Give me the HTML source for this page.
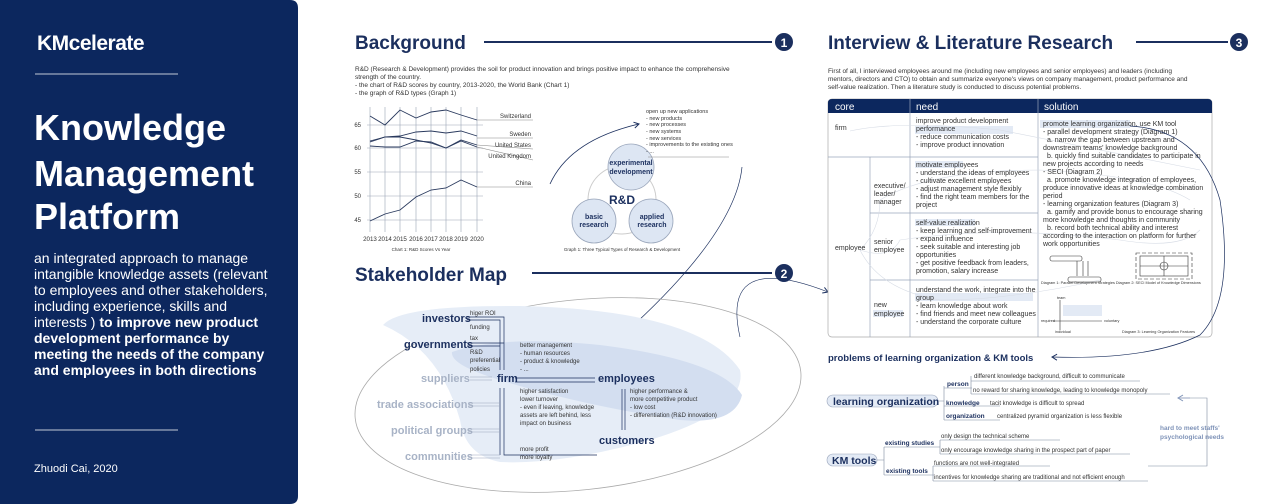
<!DOCTYPE html>
<html><head><meta charset="utf-8"><style>
html,body{margin:0;padding:0;background:#fff;width:1280px;height:504px;overflow:hidden}
svg{display:block;font-family:"Liberation Sans",sans-serif}
</style></head><body>
<svg width="1280" height="504" viewBox="0 0 1280 504" xmlns="http://www.w3.org/2000/svg">
<defs>
<marker id="ah" markerWidth="8" markerHeight="8" refX="6" refY="4" orient="auto" markerUnits="userSpaceOnUse"><path d="M1,1 L6,4 L1,7" fill="none" stroke="#1b2f5e" stroke-width="1"/></marker>
<marker id="ahg" markerWidth="8" markerHeight="8" refX="6" refY="4" orient="auto" markerUnits="userSpaceOnUse"><path d="M1,1 L6,4 L1,7" fill="none" stroke="#7f93b8" stroke-width="1"/></marker>
</defs>
<path d="M0,0 H290 Q298,0 298,8 V496 Q298,504 290,504 H0 Z" fill="#0c275e"/>
<text x="37" y="50" fill="#fff" font-size="21" font-weight="bold" letter-spacing="-0.5">KMcelerate</text>
<line x1="35" y1="74" x2="178" y2="74" stroke="#fff" stroke-width="0.8"/>
<g fill="#fff" font-weight="bold" font-size="36">
<text x="34" y="140">Knowledge</text>
<text x="34" y="186">Management</text>
<text x="34" y="229">Platform</text>
</g>
<g fill="#fff" font-size="14">
<text x="34" y="263">an integrated approach to manage</text>
<text x="34" y="279">intangible knowledge assets (relevant</text>
<text x="34" y="295">to employees and other stakeholders,</text>
<text x="34" y="311">including experience, skills and</text>
<text x="34" y="327">interests ) <tspan font-weight="bold">to improve new product</tspan></text>
<text x="34" y="343" font-weight="bold">development performance by</text>
<text x="34" y="359" font-weight="bold">meeting the needs of the company</text>
<text x="34" y="375" font-weight="bold">and employees in both directions</text>
<text x="34" y="472" font-size="11">Zhuodi Cai, 2020</text>
</g>
<line x1="35" y1="430" x2="178" y2="430" stroke="#fff" stroke-width="0.8"/>

<text x="355" y="49" fill="#1b2f5e" font-size="19" font-weight="bold">Background</text>
<line x1="484" y1="42" x2="772" y2="42" stroke="#1b2f5e" stroke-width="2"/>
<circle cx="784" cy="42" r="9" fill="#1b2f5e"/>
<text x="784" y="47" fill="#fff" font-size="12" font-weight="bold" text-anchor="middle">1</text>
<g fill="#333" font-size="6.5">
<text x="355" y="71">R&amp;D (Research &amp; Development) provides the soil for product innovation and brings positive impact to enhance the comprehensive</text>
<text x="355" y="79">strength of the country.</text>
<text x="355" y="87">- the chart of R&amp;D scores by country, 2013-2020, the World Bank (Chart 1)</text>
<text x="355" y="95">- the graph of R&amp;D types (Graph 1)</text>
</g>
<g stroke="#9aa3b5" stroke-width="0.6">
<line x1="367" y1="125" x2="483" y2="125"/><line x1="367" y1="148" x2="483" y2="148"/><line x1="367" y1="172" x2="483" y2="172"/><line x1="367" y1="196" x2="483" y2="196"/><line x1="367" y1="220" x2="483" y2="220"/>
<line x1="370" y1="107" x2="370" y2="232"/><line x1="385" y1="107" x2="385" y2="232"/><line x1="400" y1="107" x2="400" y2="232"/><line x1="416" y1="107" x2="416" y2="232"/><line x1="431" y1="107" x2="431" y2="232"/><line x1="446" y1="107" x2="446" y2="232"/><line x1="461" y1="107" x2="461" y2="232"/><line x1="477" y1="107" x2="477" y2="232"/>
</g>
<g fill="none" stroke="#2a3a5e" stroke-width="0.9">
<polyline points="370,116 385,125 400,110 416,118 431,112 446,110 461,115 477,120"/>
<polyline points="370,141 385,137 400,136 416,132 431,131 446,133 461,131 477,136"/>
<polyline points="370,142 385,137 400,137 416,140 431,143 446,148 461,140 477,145"/>
<polyline points="370,146 385,147 400,147 416,141 431,142 446,148 461,141 477,147"/>
<polyline points="370,221 385,214 400,210 416,197 431,190 446,188 461,180 477,187"/>
</g>
<g stroke="#888" stroke-width="0.6">
<line x1="477" y1="120" x2="533" y2="120"/><line x1="477" y1="138" x2="533" y2="138"/><line x1="477" y1="145" x2="533" y2="149"/><line x1="477" y1="147" x2="533" y2="160"/><line x1="477" y1="187" x2="533" y2="187"/>
</g>
<g fill="#333" font-size="6" text-anchor="end">
<text x="531" y="118">Switzerland</text><text x="531" y="136">Sweden</text><text x="531" y="147">United States</text><text x="531" y="158">United Kingdom</text><text x="531" y="185">China</text>
<text x="361" y="127">65</text><text x="361" y="150">60</text><text x="361" y="174">55</text><text x="361" y="198">50</text><text x="361" y="222">45</text>
</g>
<g fill="#333" font-size="6.2" text-anchor="middle">
<text x="370" y="241">2013</text><text x="385" y="241">2014</text><text x="400" y="241">2015</text><text x="416" y="241">2016</text><text x="431" y="241">2017</text><text x="446" y="241">2018</text><text x="461" y="241">2019</text><text x="477" y="241">2020</text>
<text x="421" y="251" font-size="4.5">Chart 1: R&amp;D Scores Vs Year</text>
<text x="622" y="251" font-size="4.5">Graph 1: Three Typical Types of Research &amp; Development</text>
</g>
<circle cx="622" cy="200" r="34" fill="none" stroke="#ccc" stroke-width="1"/>
<g fill="#dde6f3" stroke="#9aa6bb" stroke-width="0.8">
<circle cx="631" cy="167" r="23"/><circle cx="594" cy="221" r="22"/><circle cx="651" cy="221" r="22"/>
</g>
<g fill="#1b2f5e" font-size="7" font-weight="bold" text-anchor="middle">
<text x="631" y="165">experimental</text><text x="631" y="174">development</text>
<text x="594" y="219">basic</text><text x="594" y="227">research</text>
<text x="652" y="219">applied</text><text x="652" y="227">research</text>
<text x="622" y="204" font-size="12">R&amp;D</text>
</g>
<g fill="#333" font-size="5.5">
<text x="646" y="113">open up new applications</text><text x="646" y="120">- new products</text><text x="646" y="126">- new processes</text><text x="646" y="133">- new systems</text><text x="646" y="140">- new services</text><text x="646" y="146">- improvements to the existing ones</text><text x="646" y="153">- ...</text>
</g>
<line x1="648" y1="157" x2="729" y2="157" stroke="#888" stroke-width="0.5"/>
<path d="M550,184 Q570,140 639,124" fill="none" stroke="#1b2f5e" stroke-width="0.8" marker-end="url(#ah)"/>
<path d="M742,167 Q735,240 600,355" fill="none" stroke="#1b2f5e" stroke-width="0.7" marker-end="url(#ah)"/>

<text x="355" y="281" fill="#1b2f5e" font-size="19" font-weight="bold">Stakeholder Map</text>
<line x1="532" y1="273" x2="772" y2="273" stroke="#1b2f5e" stroke-width="2"/>
<circle cx="784" cy="273" r="9" fill="#1b2f5e"/>
<text x="784" y="278" fill="#fff" font-size="12" font-weight="bold" text-anchor="middle">2</text>
<ellipse cx="578" cy="395" rx="224" ry="95" transform="rotate(-6 578 395)" fill="none" stroke="#aaa" stroke-width="0.8"/>
<path d="M383,325 Q400,305 520,306 Q700,310 740,370 Q748,410 650,440 Q560,465 500,462 Q465,455 460,420 Q440,350 383,325Z" fill="#e6edf7"/>
<path d="M452,352 Q500,335 600,345 Q720,360 742,395 Q735,425 680,420 Q580,405 500,380 Q450,365 452,352Z" fill="#d3def0"/>
<path d="M740,337 Q720,250 828,292" fill="none" stroke="#1b2f5e" stroke-width="0.6" marker-end="url(#ah)"/>
<g fill="#1b2f5e" font-weight="bold" font-size="11">
<text x="422" y="322">investors</text><text x="404" y="348">governments</text>
<text x="497" y="382">firm</text><text x="598" y="382">employees</text><text x="599" y="444">customers</text>
</g>
<g fill="#a8b3c6" font-weight="bold" font-size="11">
<text x="421" y="382">suppliers</text><text x="377" y="408">trade associations</text><text x="391" y="434">political groups</text><text x="405" y="460">communities</text>
</g>
<g stroke="#1b2f5e" stroke-width="0.7" fill="none">
<path d="M467,317 H504 V370"/><path d="M467,320 H500 V370"/><path d="M467,343 H504"/><path d="M467,346 H500"/>
<path d="M515,378 H595"/><path d="M515,382 H595"/><path d="M504,388 V455 H597"/><path d="M500,388 V455"/>
<path d="M622,389 V430"/><path d="M625,389 V430"/>
</g>
<g stroke="#9aa6bb" stroke-width="0.6" fill="none">
<path d="M470,377 H492"/><path d="M470,380 H492"/><path d="M468,403 H500"/><path d="M468,406 H500"/><path d="M468,429 H500"/><path d="M468,432 H500"/><path d="M468,455 H500"/><path d="M468,458 H500"/>
</g>
<g fill="#333" font-size="6">
<text x="470" y="315">higer ROI</text><text x="470" y="329">funding</text><text x="470" y="340">tax</text><text x="470" y="354">R&amp;D</text><text x="470" y="362">preferential</text><text x="470" y="371">policies</text>
<text x="520" y="347">better management</text><text x="520" y="355">- human resources</text><text x="520" y="363">- product &amp; knowledge</text><text x="520" y="371">- ...</text>
<text x="520" y="393">higher satisfaction</text><text x="520" y="401">lower turnover</text><text x="520" y="409">- even if leaving, knowledge</text><text x="520" y="417">assets are left behind, less</text><text x="520" y="425">impact on business</text>
<text x="630" y="393">higher performance &amp;</text><text x="630" y="401">more competitive product</text><text x="630" y="409">- low cost</text><text x="630" y="417">- differentiation (R&amp;D innovation)</text>
<text x="520" y="451">more profit</text><text x="520" y="459">more loyalty</text>
</g>

<text x="828" y="49" fill="#1b2f5e" font-size="19" font-weight="bold">Interview &amp; Literature Research</text>
<line x1="1136" y1="42" x2="1228" y2="42" stroke="#1b2f5e" stroke-width="2"/>
<circle cx="1239" cy="42" r="9" fill="#1b2f5e"/>
<text x="1239" y="47" fill="#fff" font-size="12" font-weight="bold" text-anchor="middle">3</text>
<g fill="#333" font-size="6.5">
<text x="828" y="73">First of all, I interviewed employees around me (including new employees and senior employees) and leaders (including</text>
<text x="828" y="81">mentors, directors and CTO) to obtain and summarize everyone's views on company management, product performance and</text>
<text x="828" y="89">self-value realization. Then a literature study is conducted to discuss potential problems.</text>
</g>
<rect x="828" y="99" width="384" height="238" rx="4" fill="#fff" stroke="#aaa" stroke-width="0.7"/>
<path d="M828,113 V103 Q828,99 832,99 H1208 Q1212,99 1212,103 V113 Z" fill="#0c275e"/>
<g fill="#fff" font-size="10"><text x="835" y="110">core</text><text x="916" y="110">need</text><text x="1044" y="110">solution</text></g>
<g fill="#e3eaf5">
<rect x="915" y="126" width="98" height="8"/><rect x="1040" y="120" width="90" height="8"/><rect x="915" y="161" width="48" height="7"/><rect x="915" y="219" width="60" height="7"/><rect x="915" y="293" width="118" height="8"/><rect x="873" y="310" width="30" height="7"/>
</g>
<g stroke="#9aa6bb" stroke-width="0.7">
<line x1="910" y1="99" x2="910" y2="337"/><line x1="1038" y1="99" x2="1038" y2="337"/><line x1="870" y1="157" x2="870" y2="337"/>
<line x1="828" y1="157" x2="1038" y2="157"/><line x1="870" y1="213" x2="1038" y2="213"/><line x1="870" y1="280" x2="1038" y2="280"/>
</g>
<g fill="none" stroke="#d8dde6" stroke-width="0.6">
<path d="M850,131 Q900,120 1000,130 Q1100,150 1200,170"/>
<path d="M860,250 Q880,230 880,200 Q930,170 1040,170 Q1150,175 1190,200"/>
<path d="M860,250 Q890,260 900,240 Q1000,225 1120,240 Q1180,250 1200,230"/>
<path d="M860,250 Q880,290 940,300 Q1010,300 1100,280"/>
</g>
<g fill="#333" font-size="7">
<text x="835" y="130">firm</text><text x="835" y="250">employee</text>
<text x="874" y="188">executive/</text><text x="874" y="196">leader/</text><text x="874" y="204">manager</text>
<text x="874" y="244">senior</text><text x="874" y="252">employee</text>
<text x="874" y="307">new</text><text x="874" y="316">employee</text>
<text x="916" y="123">improve product development</text><text x="916" y="131">performance</text><text x="916" y="139">- reduce communication costs</text><text x="916" y="147">- improve product innovation</text>
<text x="916" y="167">motivate employees</text><text x="916" y="175">- understand the ideas of employees</text><text x="916" y="183">- cultivate excellent employees</text><text x="916" y="191">- adjust management style flexibly</text><text x="916" y="199">- find the right team members for the</text><text x="916" y="207">project</text>
<text x="916" y="225">self-value realization</text><text x="916" y="233">- keep learning and self-improvement</text><text x="916" y="241">- expand influence</text><text x="916" y="249">- seek suitable and interesting job</text><text x="916" y="257">opportunities</text><text x="916" y="265">- get positive feedback from leaders,</text><text x="916" y="273">promotion, salary increase</text>
<text x="916" y="292">understand the work, integrate into the</text><text x="916" y="300">group</text><text x="916" y="308">- learn knowledge about work</text><text x="916" y="316">- find friends and meet new colleagues</text><text x="916" y="324">- understand the corporate culture</text>
<text x="1043" y="126">promote learning organization, use KM tool</text>
<text x="1043" y="134">- parallel development strategy (Diagram 1)</text>
<text x="1047" y="142">a. narrow the gap between upstream and</text>
<text x="1043" y="150">downstream teams' knowledge background</text>
<text x="1047" y="158">b. quickly find suitable candidates to participate in</text>
<text x="1043" y="166">new projects according to needs</text>
<text x="1043" y="174">- SECI (Diagram 2)</text>
<text x="1047" y="182">a. promote knowledge integration of employees,</text>
<text x="1043" y="190">produce innovative ideas at knowledge combination</text>
<text x="1043" y="198">period</text>
<text x="1043" y="206">- learning organization features (Diagram 3)</text>
<text x="1047" y="214">a. gamify and provide bonus to encourage sharing</text>
<text x="1043" y="222">more knowledge and thoughts in community</text>
<text x="1047" y="230">b. record both technical ability and interest</text>
<text x="1043" y="238">according to the interaction on platform for further</text>
<text x="1043" y="246">work opportunities</text>
</g>
<g fill="none" stroke="#333" stroke-width="0.6">
<rect x="1050" y="256" width="32" height="5" rx="2"/><rect x="1068" y="277" width="33" height="5" rx="2"/>
<path d="M1077,261 V276 M1083,261 V276 M1088,261 V276"/>
<rect x="1140" y="256" width="48" height="20"/><line x1="1164" y1="256" x2="1164" y2="276"/><line x1="1140" y1="266" x2="1188" y2="266"/><circle cx="1164" cy="266" r="4"/>
<path d="M1136,253 H1192 V279 H1136 Z" stroke-dasharray="4 2"/>
<path d="M1060,300 V330 M1053,321 H1102"/>
</g>
<rect x="1063" y="305" width="39" height="11" fill="#e3eaf5"/>
<g fill="#333" font-size="3.8">
<text x="1041" y="284">Diagram 1: Parallel Development Strategies  Diagram 2: SECI Model of Knowledge Dimensions</text>
<text x="1122" y="333">Diagram 3: Learning Organization Features</text>
<text x="1057" y="299">team</text><text x="1041" y="322">required</text><text x="1104" y="322">voluntary</text><text x="1055" y="333">individual</text>
</g>
<path d="M1130,126 Q1200,130 1220,200 Q1235,300 1200,335 Q1150,360 1052,357" fill="none" stroke="#1b2f5e" stroke-width="0.7" marker-end="url(#ah)"/>

<text x="828" y="361" fill="#1b2f5e" font-size="9.5" font-weight="bold">problems of learning organization &amp; KM tools</text>
<rect x="827" y="395" width="111" height="12" rx="6" fill="#e3eaf5" stroke="#9aa6bb" stroke-width="0.6"/>
<text x="833" y="405" fill="#1b2f5e" font-size="10.5" font-weight="bold">learning organization</text>
<rect x="827" y="454" width="50" height="12" rx="6" fill="#e3eaf5" stroke="#9aa6bb" stroke-width="0.6"/>
<text x="832" y="464" fill="#1b2f5e" font-size="10.5" font-weight="bold">KM tools</text>
<g fill="none" stroke="#7f8aa0" stroke-width="0.6">
<path d="M938,401 H944 M944,386 V420 M944,388 H972 M944,406 H1000 M944,420 H1000"/>
<path d="M971,376 V394 M971,381 H1140 M971,394 H1170"/>
<path d="M877,460 H884 M884,447 V475 M884,447 H940 M884,475 H934"/>
<path d="M940,440 V454 M940,440 H1060 M940,454 H1130 M933,466 V481 M933,466 H1050 M933,481 H1148"/>
<path d="M1148,466 H1207 V398 H1180"/>
</g>
<path d="M1190,398 H1178" stroke="#7f93b8" stroke-width="0.6" marker-end="url(#ahg)"/>
<g fill="#1b2f5e" font-size="6.5" font-weight="bold">
<text x="947" y="386">person</text><text x="946" y="405">knowledge</text><text x="946" y="418">organization</text>
<text x="885" y="445">existing studies</text><text x="886" y="473">existing tools</text>
</g>
<g fill="#333" font-size="6">
<text x="974" y="378">different knowledge background, difficult to communicate</text>
<text x="973" y="392">no reward for sharing knowledge, leading to knowledge monopoly</text>
<text x="990" y="405">tacit knowledge is difficult to spread</text>
<text x="997" y="418">centralized pyramid organization is less flexible</text>
<text x="941" y="438">only design the technical scheme</text>
<text x="941" y="452">only encourage knowledge sharing in the prospect part of paper</text>
<text x="934" y="465">functions are not well-integrated</text>
<text x="934" y="479">incentives for knowledge sharing are traditional and not efficient enough</text>
</g>
<g fill="#7f93b8" font-size="6.5" font-weight="bold">
<text x="1160" y="430">hard to meet staffs'</text><text x="1160" y="439">psychological needs</text>
</g>
</svg>
</body></html>
